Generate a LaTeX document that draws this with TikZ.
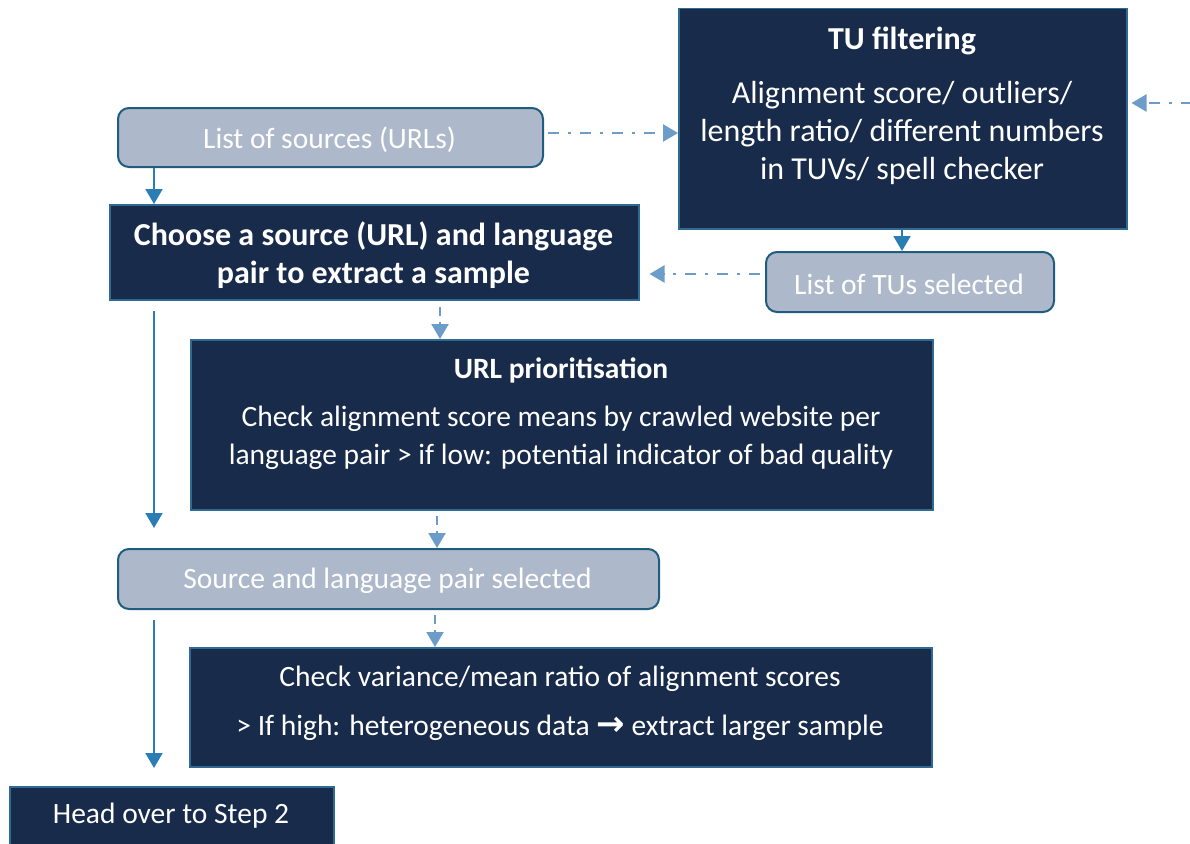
\documentclass[tikz,border=0pt]{standalone}
\usepackage{fontspec}
\setmainfont{Carlito}
\usetikzlibrary{arrows.meta}
\definecolor{navy}{HTML}{182B4A}
\definecolor{navyedge}{HTML}{2E6A92}
\definecolor{greyfill}{HTML}{ADB9CA}
\definecolor{greyedge}{HTML}{1F5C80}
\definecolor{solidblue}{HTML}{2A7DB5}
\definecolor{paleblue}{HTML}{6C9CC8}
\tikzset{
  darkbox/.style={draw=navyedge, line width=1.5pt, fill=navy, anchor=north west, inner sep=0pt},
  greybox/.style={draw=greyedge, line width=2pt, fill=greyfill, rounded corners=11pt, anchor=north west, inner sep=0pt},
  txt/.style={text=white, align=center, inner sep=0pt, font=\fontsize{29.5}{38}\selectfont},
  bigtxt/.style={txt, font=\fontsize{32}{38}\selectfont},
  btxt/.style={txt, font=\fontsize{29.5}{38}\selectfont\bfseries},
  bigbtxt/.style={txt, font=\fontsize{32}{38}\selectfont\bfseries},
  flow/.style={draw=solidblue, line width=2pt, -{Triangle[width=17pt,length=15pt]}},
  soft/.style={draw=paleblue, line width=2.2pt, dash pattern=on 9pt off 6pt, -{Triangle[width=17pt,length=15pt]}},
  link/.style={draw=paleblue, line width=2.2pt, dash pattern=on 11pt off 9pt on 3pt off 9pt, -{Triangle[width=17pt,length=15pt]}},
}
\begin{document}
\begin{tikzpicture}[x=1pt,y=-1pt]
\useasboundingbox (0,0) rectangle (1190,843);
\clip (0,0) rectangle (1190,843);

% boxes
\node[darkbox, minimum width=448, minimum height=220] (tu) at (678,8) {};
\node[greybox, minimum width=425, minimum height=59] (src) at (117,107) {};
\node[darkbox, minimum width=529, minimum height=95] (choose) at (109,204) {};
\node[greybox, minimum width=288, minimum height=60] (tus) at (765,251) {};
\node[darkbox, minimum width=742, minimum height=170] (prio) at (190,339) {};
\node[greybox, minimum width=541, minimum height=60] (sel) at (117,548) {};
\node[darkbox, minimum width=742, minimum height=119] (var) at (189,647) {};
\node[darkbox, minimum width=324, minimum height=70] (step) at (9,786) {};

% texts
\node[bigbtxt] (tuT) at (902,41) {TU filtering};
\node[bigtxt] (tuB) at (902,133) {Alignment score/ outliers/\\length ratio/ different numbers\\in TUVs/ spell checker};
\node[txt] (srcT) at (329.5,139.5) {List of sources (URLs)};
\node[bigbtxt] (chT) at (373.5,255) {Choose a source (URL) and language\\pair to extract a sample};
\node[txt] (tusT) at (909,284) {List of TUs selected};
\node[btxt] (prT) at (561,370) {URL prioritisation};
\node[txt] (prB) at (561,438) {Check alignment score means by crawled website per\\language pair > if low: potential indicator of bad quality};
\node[txt] (selT) at (387.5,581) {Source and language pair selected};
\node[txt] (varA) at (560,679) {Check variance/mean ratio of alignment scores};
\node[txt] (varB) at (560,728) {> If high: heterogeneous data {\fontspec{DejaVu Sans}\fontsize{34}{30}\selectfont\bfseries →} extract larger sample};
\node[txt] (stT) at (171,816) {Head over to Step 2};

% solid flow
\draw[flow] (src.south -| 154,0) -- (choose.north -| 154,0);
\coordinate (a1) at (154,311);
\coordinate (a2) at (154,528);
\draw[flow] (a1) -- (a2);
\coordinate (b1) at (154,620);
\coordinate (b2) at (154,768);
\draw[flow] (b1) -- (b2);
\draw[flow] (tu.south -| 902,0) -- (tus.north -| 902,0);

% dashed links between stages
\coordinate (d1) at (440,307);
\draw[soft] (d1) -- (prio.north -| d1);
\coordinate (d2) at (437,516);
\draw[soft] (d2) -- (sel.north -| d2);
\coordinate (d3) at (435,615);
\draw[soft] (d3) -- (var.north -| d3);

% dash-dot feeds
\draw[link] (src.east |- 0,133) ++(4,0) -- (tu.west |- 0,133);
\draw[link] (tus.west |- 0,274) ++(-5,0) -- ([xshift=10pt]choose.east |- 0,274);
\coordinate (edge) at (1192,103);
\draw[link] (edge) -- ([xshift=4pt]tu.east |- edge);
\end{tikzpicture}
\end{document}
